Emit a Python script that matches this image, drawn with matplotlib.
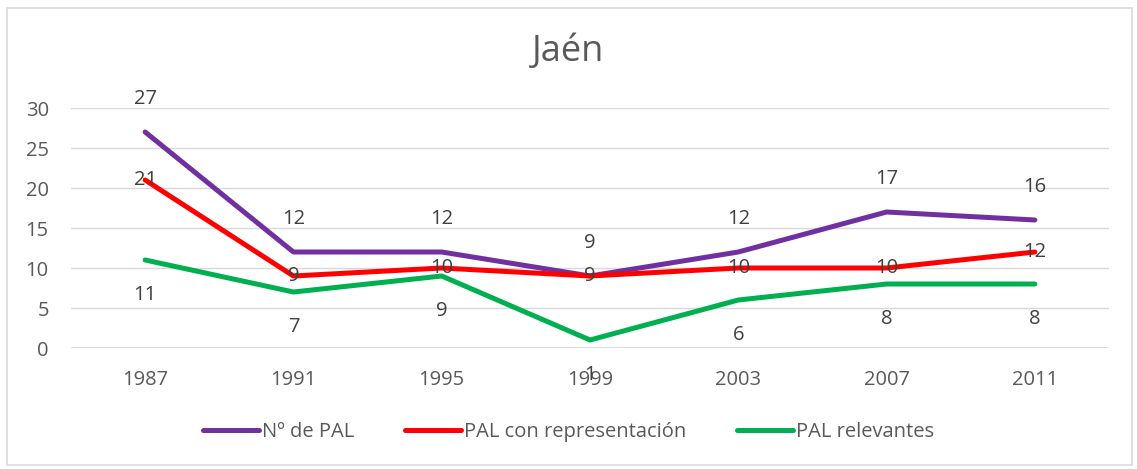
import matplotlib
matplotlib.use('Agg')
from matplotlib import pyplot as plt
from matplotlib.patches import Rectangle

years = ['1987', '1991', '1995', '1999', '2003', '2007', '2011']
n_pal = [27, 12, 12, 9, 12, 17, 16]
pal_repr = [21, 9, 10, 9, 10, 10, 12]
pal_relev = [11, 7, 9, 1, 6, 8, 8]

names = ['Nº de PAL', 'PAL con representación', 'PAL relevantes']
colors = ['#7030A0', '#FF0000', '#00B050']
label_offsets = [33, 0, -35]   # px: above, centred, below

txt = '#595959'
fs = 14.5
plt.rcParams['font.family'] = ['Open Sans', 'DejaVu Sans']

fig = plt.figure(figsize=(11.37, 4.69), dpi=100)
fig.patches.append(Rectangle((7/1137, 4/469), 1125/1137, 457/469, transform=fig.transFigure,
                             fill=False, edgecolor='#D9D9D9', linewidth=1.2))
ax = fig.add_axes([71/1137, 121/469, 1038/1137, 240/469])

x = list(range(len(years)))
ax.axhline(0, color='#D9D9D9', linewidth=1.2, zorder=1)
for vals, name, c, off in zip([n_pal, pal_repr, pal_relev], names, colors, label_offsets):
    ax.plot(x, vals, color=c, linewidth=3.6, label=name, solid_capstyle='round',
            solid_joinstyle='round', zorder=3)
    for xi, v in zip(x, vals):
        ax.annotate(str(v), (xi, v), xytext=(0, off * 0.72), textcoords='offset points',
                    ha='center', va='center', fontsize=fs, color='#404040', zorder=4)

ax.set_xlim(-0.5, len(years) - 0.5)
ax.set_ylim(0, 30)
ax.set_yticks(range(0, 31, 5))
ax.set_xticks(x)
ax.set_xticklabels(years)
ax.grid(axis='y', color='#D9D9D9', linewidth=1)
ax.set_axisbelow(True)
for s in ax.spines.values():
    s.set_visible(False)
ax.tick_params(length=0, labelsize=fs, labelcolor=txt)
ax.tick_params(axis='x', pad=16)
ax.tick_params(axis='y', pad=16)

fig.text(0.5, 1 - 52/469, 'Jaén', ha='center', va='center', fontsize=26, color=txt)
fig.legend(loc='center', bbox_to_anchor=(0.5, 1 - 432/469), ncol=3, frameon=False,
           fontsize=fs, labelcolor=txt, handlelength=2.8, handletextpad=0.15, columnspacing=2.5)

fig.savefig('out.png', dpi=100)
